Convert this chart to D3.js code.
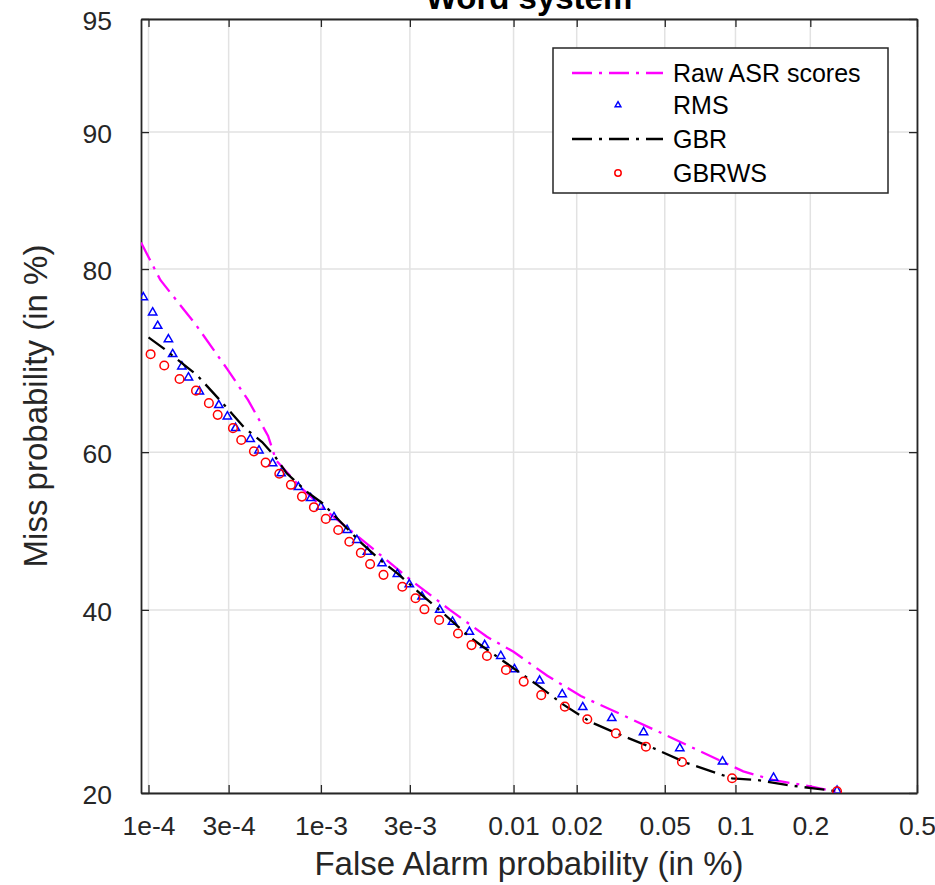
<!DOCTYPE html>
<html lang="en">
<head>
    <meta charset="UTF-8">
    <title>Word system DET</title>
    <script src="https://d3js.org/d3.v7.min.js"></script>
    <style>
        body { margin: 0; background: #fff; }
        svg { font-family: "Liberation Sans", Arial, sans-serif; }
    </style>
</head>
<body>
<div id="chart"></div>
<script>
// false alarm / miss values, both in %
const rawFa   = [0.00009, 0.000118, 0.000193, 0.000296, 0.000389, 0.000506, 0.000561, 0.00077, 0.00109, 0.00192, 0.00303, 0.00482, 0.0074, 0.01, 0.01454, 0.0209, 0.0326, 0.0465, 0.069, 0.1077, 0.142, 0.2, 0.254];
const rawMiss = [82.3, 79.0, 74.6, 69.8, 66.3, 62.0, 59.0, 55.6, 52.45, 47.7, 43.75, 40.0, 36.7, 34.9, 32.1, 29.8, 27.7, 26.0, 24.1, 22.0, 21.2, 20.6, 20.1];

const rmsFa   = [0.000093, 0.000106, 0.0001137, 0.000132, 0.00014, 0.000159, 0.000174, 0.000202, 0.000263, 0.000295, 0.000329, 0.0004, 0.000449, 0.000537, 0.0006, 0.00075, 0.000877, 0.001, 0.00118, 0.00139, 0.00157, 0.00179, 0.00214, 0.00258, 0.00298, 0.00347, 0.00428, 0.00497, 0.00605, 0.00721, 0.00866, 0.0101, 0.01336, 0.0171, 0.02134, 0.029, 0.0403, 0.0581, 0.0883, 0.143, 0.2536];
const rmsMiss = [77.36, 75.86, 74.5, 73.1, 71.5, 70.14, 68.9, 67.3, 65.7, 64.35, 62.95, 61.6, 60.2, 58.6, 57.35, 55.6, 54.2, 53.1, 51.77, 50.13, 48.85, 47.34, 45.85, 44.5, 43.2, 41.65, 40.0, 38.53, 37.3, 35.7, 34.4, 32.85, 31.54, 30.0, 28.57, 27.38, 25.9, 24.26, 22.95, 21.4, 20.2];

const gbrFa   = [0.0001, 0.0001234, 0.0001385, 0.000195, 0.000275, 0.000366, 0.000468, 0.000548, 0.000645, 0.000838, 0.00102, 0.00136, 0.00167, 0.0021, 0.00258, 0.00354, 0.00446, 0.00605, 0.00707, 0.01, 0.013, 0.0174, 0.0231, 0.0305, 0.0447, 0.0624, 0.0968, 0.122, 0.161, 0.2057, 0.254];
const gbrMiss = [73.3, 72.14, 71.4, 69.2, 66.0, 63.1, 61.25, 59.6, 57.35, 55.0, 53.56, 50.55, 48.42, 46.27, 44.6, 41.65, 39.58, 36.7, 35.5, 32.97, 31.05, 28.82, 27.0, 25.78, 24.26, 22.8, 21.35, 21.2, 20.73, 20.42, 20.15];

const gbrwsFa   = [0.000103, 0.0001246, 0.000154, 0.000193, 0.00023, 0.000259, 0.000318, 0.000355, 0.00042, 0.00049, 0.000586, 0.000681, 0.000785, 0.000915, 0.001064, 0.001244, 0.00143, 0.00165, 0.00185, 0.00218, 0.00274, 0.00321, 0.00357, 0.00425, 0.0053, 0.0062, 0.0074, 0.00918, 0.0112, 0.0136, 0.0176, 0.0224, 0.0303, 0.0413, 0.0594, 0.0968, 0.2536];
const gbrwsMiss = [71.5, 70.25, 68.74, 67.4, 65.94, 64.55, 62.95, 61.5, 60.1, 58.7, 57.3, 55.9, 54.4, 53.05, 51.55, 50.13, 48.63, 47.2, 45.77, 44.4, 42.9, 41.45, 40.07, 38.75, 37.1, 35.7, 34.4, 32.77, 31.43, 29.9, 28.63, 27.27, 25.78, 24.42, 22.9, 21.35, 20.15];

const xTicks = [0.0001, 0.0003, 0.001, 0.003, 0.01, 0.02, 0.05, 0.1, 0.2, 0.5];
const xTickLabels = ["1e-4", "3e-4", "1e-3", "3e-3", "0.01", "0.02", "0.05", "0.1", "0.2", "0.5"];
const yTicks = [20, 40, 60, 80, 90, 95];
const xLimits = [0.00009, 0.5];
const yLimits = [20, 95];

const seriesNames = ["Raw ASR scores", "RMS", "GBR", "GBRWS"];

// inverse normal cdf (Acklam)
function probit(p) {
    const a = [-3.969683028665376e+01, 2.209460984245205e+02, -2.759285104469687e+02, 1.383577518672690e+02, -3.066479806614716e+01, 2.506628277459239e+00];
    const b = [-5.447609879822406e+01, 1.615858368580409e+02, -1.556989798598866e+02, 6.680131188771972e+01, -1.328068155288572e+01];
    const c = [-7.784894002430293e-03, -3.223964580411365e-01, -2.400758277161838e+00, -2.549732539343734e+00, 4.374664141464968e+00, 2.938163982698783e+00];
    const d = [7.784695709041462e-03, 3.224671290700398e-01, 2.445134137142996e+00, 3.754408661907416e+00];
    const pl = 0.02425;
    if (p < pl) {
        const q = Math.sqrt(-2 * Math.log(p));
        return (((((c[0]*q+c[1])*q+c[2])*q+c[3])*q+c[4])*q+c[5]) / ((((d[0]*q+d[1])*q+d[2])*q+d[3])*q+1);
    }
    if (p > 1 - pl) {
        const q = Math.sqrt(-2 * Math.log(1 - p));
        return -(((((c[0]*q+c[1])*q+c[2])*q+c[3])*q+c[4])*q+c[5]) / ((((d[0]*q+d[1])*q+d[2])*q+d[3])*q+1);
    }
    const q = p - 0.5, r = q * q;
    return (((((a[0]*r+a[1])*r+a[2])*r+a[3])*r+a[4])*r+a[5])*q / (((((b[0]*r+b[1])*r+b[2])*r+b[3])*r+b[4])*r+1);
}

const width = 935, height = 885;
const plotL = 141, plotR = 917, plotT = 19, plotB = 793;
const ink = "#262626";

const xs = d3.scaleLinear().domain(xLimits.map(v => probit(v / 100))).range([plotL, plotR]);
const ys = d3.scaleLinear().domain(yLimits.map(v => probit(v / 100))).range([plotB, plotT]);
const x = v => xs(probit(v / 100));
const y = v => ys(probit(v / 100));

const svg = d3.select("#chart").append("svg")
    .attr("width", width)
    .attr("height", height);

svg.append("clipPath").attr("id", "plot-clip")
    .append("rect")
    .attr("x", plotL).attr("y", plotT)
    .attr("width", plotR - plotL).attr("height", plotB - plotT);

// grid
const grid = svg.append("g").attr("stroke", "#e2e2e2").attr("stroke-width", 1.5);
grid.selectAll(".gx").data(xTicks).join("line")
    .attr("x1", d => x(d)).attr("x2", d => x(d))
    .attr("y1", plotT).attr("y2", plotB);
grid.selectAll(".gy").data(yTicks).join("line")
    .attr("x1", plotL).attr("x2", plotR)
    .attr("y1", d => y(d)).attr("y2", d => y(d));

// axes
const xAxis = d3.axisBottom(xs)
    .tickValues(xTicks.map(v => probit(v / 100)))
    .tickFormat((d, i) => xTickLabels[i])
    .tickSizeInner(-8).tickSizeOuter(0).tickPadding(23);
const yAxis = d3.axisLeft(ys)
    .tickValues(yTicks.map(v => probit(v / 100)))
    .tickFormat((d, i) => yTicks[i])
    .tickSizeInner(-8).tickSizeOuter(0).tickPadding(29);

function styleAxis(g) {
    g.select(".domain").attr("stroke", ink).attr("stroke-width", 1.8);
    g.selectAll(".tick line").attr("stroke", ink).attr("stroke-width", 1.3);
    g.selectAll(".tick text").attr("fill", ink).attr("font-size", 26.5);
}

svg.append("g").attr("transform", `translate(0,${plotB})`).call(xAxis).call(styleAxis);
svg.append("g").attr("transform", `translate(${plotL},0)`).call(yAxis).call(styleAxis)
    .selectAll(".tick text").attr("dy", "0.4em");
svg.append("g").attr("transform", `translate(0,${plotT})`)
    .call(d3.axisTop(xs).tickValues(xTicks.map(v => probit(v / 100))).tickFormat("").tickSizeInner(-8).tickSizeOuter(0))
    .call(styleAxis);
svg.append("g").attr("transform", `translate(${plotR},0)`)
    .call(d3.axisRight(ys).tickValues(yTicks.map(v => probit(v / 100))).tickFormat("").tickSizeInner(-8).tickSizeOuter(0))
    .call(styleAxis);

// labels
svg.append("text")
    .attr("x", (plotL + plotR) / 2).attr("y", 875)
    .attr("text-anchor", "middle").attr("font-size", 33).attr("fill", ink)
    .text("False Alarm probability (in %)");
svg.append("text")
    .attr("transform", `translate(47,${(plotT + plotB) / 2}) rotate(-90)`)
    .attr("text-anchor", "middle").attr("font-size", 33).attr("fill", ink)
    .text("Miss probability (in %)");
svg.append("text")
    .attr("x", (plotL + plotR) / 2).attr("y", 9)
    .attr("text-anchor", "middle").attr("font-size", 33).attr("font-weight", "bold").attr("fill", "#000")
    .text("Word system");

// series
const plot = svg.append("g").attr("clip-path", "url(#plot-clip)");
const line = d3.line().x(d => x(d[0])).y(d => y(d[1]));
const dashDot = "20,7,3,7";

plot.append("path")
    .datum(d3.zip(rawFa, rawMiss))
    .attr("d", line)
    .attr("fill", "none").attr("stroke", "#ff00ff").attr("stroke-width", 2.3)
    .attr("stroke-dasharray", dashDot);

const tri = d3.symbol(d3.symbolTriangle, 30);
plot.selectAll(".rms").data(d3.zip(rmsFa, rmsMiss)).join("path")
    .attr("d", tri)
    .attr("transform", d => `translate(${x(d[0])},${y(d[1])})`)
    .attr("fill", "none").attr("stroke", "#0000ff").attr("stroke-width", 1.5);

plot.append("path")
    .datum(d3.zip(gbrFa, gbrMiss))
    .attr("d", line)
    .attr("fill", "none").attr("stroke", "#000").attr("stroke-width", 2.3)
    .attr("stroke-dasharray", dashDot);

plot.selectAll(".gbrws").data(d3.zip(gbrwsFa, gbrwsMiss)).join("circle")
    .attr("cx", d => x(d[0])).attr("cy", d => y(d[1])).attr("r", 4.3)
    .attr("fill", "none").attr("stroke", "#ff0000").attr("stroke-width", 1.5);

// legend
const lg = svg.append("g").attr("transform", "translate(553,48)");
lg.append("rect").attr("width", 335).attr("height", 145)
    .attr("fill", "#fff").attr("stroke", ink).attr("stroke-width", 1.5);
const rowY = [25, 57, 91, 125];
lg.selectAll(".lt").data(seriesNames).join("text")
    .attr("x", 120).attr("y", (d, i) => rowY[i]).attr("dy", "0.35em")
    .attr("font-size", 25).attr("fill", "#000")
    .text(d => d);
lg.append("line").attr("x1", 19).attr("x2", 110).attr("y1", rowY[0]).attr("y2", rowY[0])
    .attr("stroke", "#ff00ff").attr("stroke-width", 2.3).attr("stroke-dasharray", dashDot);
lg.append("path").attr("d", d3.symbol(d3.symbolTriangle, 14))
    .attr("transform", `translate(65,${rowY[1]})`)
    .attr("fill", "none").attr("stroke", "#0000ff").attr("stroke-width", 1.5);
lg.append("line").attr("x1", 19).attr("x2", 110).attr("y1", rowY[2]).attr("y2", rowY[2])
    .attr("stroke", "#000").attr("stroke-width", 2.3).attr("stroke-dasharray", dashDot);
lg.append("circle").attr("cx", 65).attr("cy", rowY[3]).attr("r", 3.2)
    .attr("fill", "none").attr("stroke", "#ff0000").attr("stroke-width", 1.5);
</script>
</body>
</html>
